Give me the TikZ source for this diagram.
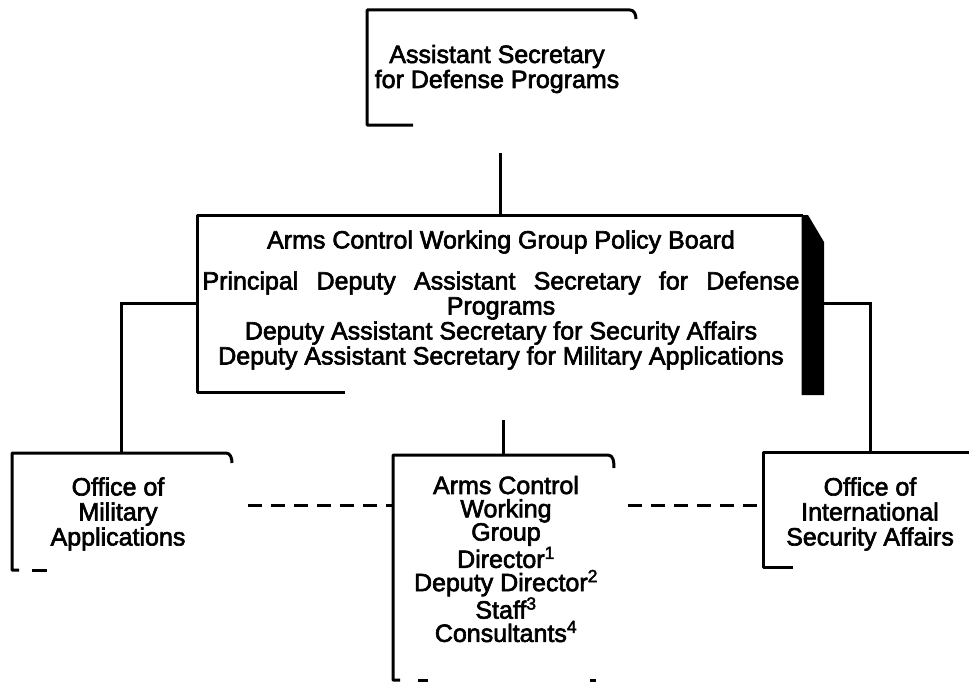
\documentclass[tikz,border=0pt]{standalone}
\usepackage{fontspec}
\newfontfamily\orgfont[FakeBold=2.5]{Liberation Sans}

\tikzset{
  frame/.style={line width=3pt, line join=round},
  link/.style={line width=3pt},
  dashlink/.style={line width=3pt, dash pattern=on 14pt off 9pt},
  orgbox/.style={rectangle, inner sep=0pt, outer sep=0pt},
  orgtext/.style={align=center, inner sep=0pt, font={\orgfont\fontsize{25}{25}\selectfont}},
}

\begin{document}
\begin{tikzpicture}[x=1pt,y=-1pt]
\useasboundingbox (0,0) rectangle (969,685);
\clip (0,0) rectangle (969,685);

    % boxes
    \node[orgbox, minimum width=268pt, minimum height=115pt] (asdp) at (501,67.5) {};
    \node[orgbox, minimum width=606pt, minimum height=177pt] (board) at (500,303.5) {};
    \node[orgbox, minimum width=218pt, minimum height=117pt] (oma) at (121,511.5) {};
    \node[orgbox, minimum width=220pt, minimum height=225pt] (acwg) at (503,567.5) {};
    \node[orgbox, minimum width=214pt, minimum height=115pt] (oisa) at (870,509.5) {};

    % texts
    \node[orgtext] (asdptxt) at (497,69) {Assistant Secretary\\for Defense Programs};
    \node[orgtext] (boardtxt) at (501,300) {Arms Control Working Group Policy Board\\[16pt]
        \makebox[597pt][s]{Principal Deputy Assistant Secretary for Defense}\\
        Programs\\
        Deputy Assistant Secretary for Security Affairs\\
        Deputy Assistant Secretary for Military Applications};
    \node[orgtext] (omatxt) at (118,514) {Office of\\Military\\Applications};
    \node[orgtext, font={\orgfont\fontsize{25}{23.3}\selectfont}] (acwgtxt) at (506,559)
        {Arms Control\\Working\\Group\\Director\textsuperscript{1}\\Deputy Director\textsuperscript{2}\\Staff\textsuperscript{3}\\Consultants\textsuperscript{4}};
    \node[orgtext] (oisatxt) at (870,514) {Office of\\International\\Security Affairs};

    % frames (as far as the print shows them)
    \draw[frame] ([xshift=46pt]asdp.south west) -- (asdp.south west) -- (asdp.north west)
        -- ([xshift=-5pt]asdp.north east) to[out=0,in=90] ([xshift=1pt,yshift=-9pt]asdp.north east);
    \draw[frame] ([xshift=148pt]board.south west) -- (board.south west) -- (board.north west) -- (board.north east);
    \fill ([xshift=-1.5pt]board.north east) -- ([xshift=5pt]board.north east)
        -- ([xshift=21pt,yshift=-27pt]board.north east) -- ([xshift=21pt,yshift=-3pt]board.south east)
        -- ([xshift=-1.5pt,yshift=-3pt]board.south east) -- cycle;
    \draw[frame] ([xshift=7pt]oma.south west) -- (oma.south west) -- (oma.north west)
        -- ([xshift=-4pt]oma.north east) to[out=0,in=90] ([xshift=2pt,yshift=-10pt]oma.north east);
    \draw[frame] ([xshift=20pt]oma.south west) -- ([xshift=35pt]oma.south west);
    \draw[frame] ([xshift=7pt]acwg.south west) -- (acwg.south west) -- (acwg.north west)
        -- ([xshift=-5pt]acwg.north east) to[out=0,in=90] ([xshift=1pt,yshift=-13pt]acwg.north east);
    \draw[frame] ([xshift=25pt]acwg.south west) -- ([xshift=35pt]acwg.south west);
    \draw[frame] ([xshift=-23pt]acwg.south east) -- ([xshift=-17pt]acwg.south east);
    \draw[frame] ([xshift=30pt]oisa.south west) -- (oisa.south west) -- (oisa.north west) -- (oisa.north east);

    % connectors
    \coordinate (agap) at ([yshift=-28pt]asdp.south);
    \coordinate (bgap) at ([yshift=-28pt]board.south);
    \coordinate (dashlvl) at (0,505);
    \draw[link] (agap -| board.north) -- (board.north);
    \draw[link] (bgap -| acwg.north) -- (acwg.north);
    \draw[link] (board.west) -| (oma.north);
    \draw[link] ([xshift=21pt]board.east) -| (oisa.north);
    \draw[dashlink] ([xshift=18pt]oma.east |- dashlvl) -- (acwg.west |- dashlvl);
    \draw[dashlink] ([xshift=15pt]acwg.east |- dashlvl) -- (oisa.west |- dashlvl);

\end{tikzpicture}
\end{document}
